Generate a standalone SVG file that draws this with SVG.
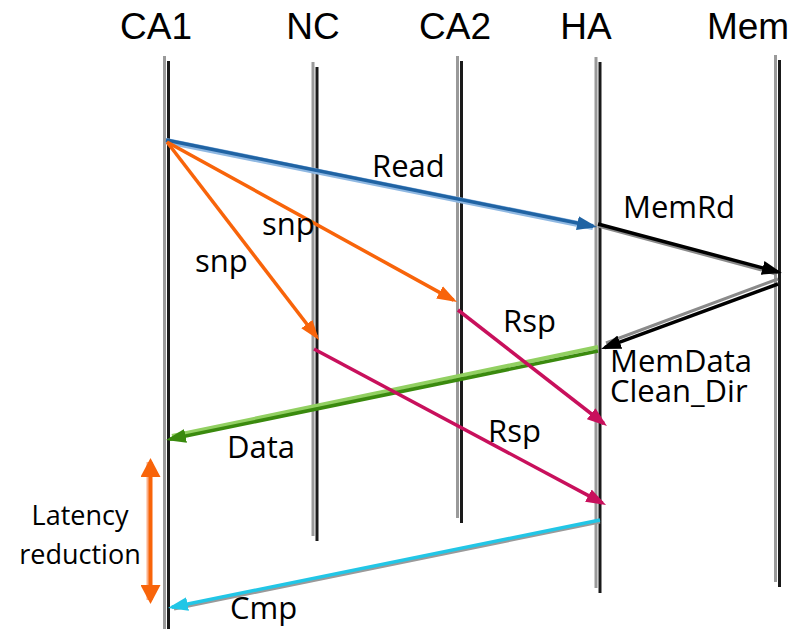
<svg xmlns="http://www.w3.org/2000/svg" width="804" height="629" viewBox="0 0 804 629">
<style>
.hdr{font-family:"Liberation Sans",Arial,sans-serif;font-size:37px;fill:#000;text-anchor:middle}
.lbl{font-family:"Open Sans","Liberation Sans",sans-serif;font-size:31px;fill:#000}
.small{font-family:"Open Sans","Liberation Sans",sans-serif;font-size:27px;fill:#000;text-anchor:middle}
.ll{stroke:#1a1a1a;stroke-width:3;fill:none}
.llsh{stroke:#9a9a9a;stroke-width:3;fill:none}
.msg{fill:none;stroke-width:3.5}
</style>
<defs>
<marker id="hBlue" viewBox="0 0 20 16" markerWidth="20" markerHeight="16" refX="16" refY="8" orient="auto" markerUnits="userSpaceOnUse"><path d="M0,1 L20,8 L0,15 z" fill="#2063a3"/></marker>
<marker id="hOrange" viewBox="0 0 20 16" markerWidth="20" markerHeight="16" refX="16" refY="8" orient="auto" markerUnits="userSpaceOnUse"><path d="M0,1 L20,8 L0,15 z" fill="#f8640a"/></marker>
<marker id="hBlack" viewBox="0 0 20 16" markerWidth="20" markerHeight="16" refX="16" refY="8" orient="auto" markerUnits="userSpaceOnUse"><path d="M0,1 L20,8 L0,15 z" fill="#000"/></marker>
<marker id="hGreen" viewBox="0 0 20 16" markerWidth="20" markerHeight="16" refX="16" refY="8" orient="auto" markerUnits="userSpaceOnUse"><path d="M0,1 L20,8 L0,15 z" fill="#3a8a0e"/></marker>
<marker id="hMag" viewBox="0 0 20 16" markerWidth="20" markerHeight="16" refX="16" refY="8" orient="auto" markerUnits="userSpaceOnUse"><path d="M0,1 L20,8 L0,15 z" fill="#c8105c"/></marker>
<marker id="hCyan" viewBox="0 0 20 16" markerWidth="20" markerHeight="16" refX="16" refY="8" orient="auto" markerUnits="userSpaceOnUse"><path d="M0,1 L20,8 L0,15 z" fill="#22c6e6"/></marker>
<marker id="hLat" viewBox="0 0 20 20" markerWidth="20" markerHeight="20" refX="15" refY="10" orient="auto-start-reverse" markerUnits="userSpaceOnUse"><path d="M0,0 L19,10 L0,20 z" fill="#f8640a"/></marker>
</defs>
<rect width="804" height="629" fill="#fff"/>

<g id="CA1">
<text class="hdr" x="156" y="39">CA1</text>
<line class="llsh" x1="164.5" y1="56" x2="164.5" y2="629"/>
<line class="ll" x1="168.5" y1="61" x2="168.5" y2="629"/>
</g>
<g id="NC">
<text class="hdr" x="313" y="39">NC</text>
<line class="llsh" x1="313" y1="62" x2="313" y2="536"/>
<line class="ll" x1="317" y1="67" x2="317" y2="541"/>
</g>
<g id="CA2">
<text class="hdr" x="455" y="39">CA2</text>
<line class="llsh" x1="457.5" y1="56" x2="457.5" y2="518"/>
<line class="ll" x1="461.5" y1="61" x2="461.5" y2="523"/>
</g>
<g id="HA">
<text class="hdr" x="586" y="39">HA</text>
<line class="llsh" x1="596" y1="57" x2="596" y2="588"/>
<line class="ll" x1="600" y1="62" x2="600" y2="593"/>
</g>
<g id="Mem">
<text class="hdr" x="748" y="39">Mem</text>
<line class="llsh" x1="775.5" y1="55" x2="775.5" y2="582"/>
<line class="ll" x1="779.5" y1="60" x2="779.5" y2="587"/>
</g>

<g id="connectors">
<!-- Read -->
<line x1="166" y1="141" x2="593" y2="227" stroke="#8fb8e2" stroke-width="6" fill="none"/>
<line class="msg" x1="166" y1="140" x2="593.1" y2="226.2" stroke="#2063a3" stroke-width="4" marker-end="url(#hBlue)"/>
<!-- snp -->
<line class="msg" x1="167" y1="142" x2="316.6" y2="336.8" stroke="#f8640a" marker-end="url(#hOrange)"/>
<line class="msg" x1="167" y1="142" x2="453.5" y2="300.1" stroke="#f8640a" marker-end="url(#hOrange)"/>
<!-- MemRd -->
<line x1="598" y1="226" x2="776" y2="274" stroke="#8a8a8a" stroke-width="3" fill="none"/>
<line class="msg" x1="598" y1="224" x2="778.1" y2="272" stroke="#000" stroke-width="4" marker-end="url(#hBlack)"/>
<!-- MemData -->
<line x1="778" y1="279" x2="606" y2="343" stroke="#8a8a8a" stroke-width="3" fill="none"/>
<line class="msg" x1="778" y1="284" x2="604.8" y2="347.6" stroke="#000" stroke-width="3" marker-end="url(#hBlack)"/>
<!-- Data -->
<line x1="598" y1="347" x2="172" y2="436" stroke="#92d062" stroke-width="4" fill="none"/>
<line class="msg" x1="598" y1="351" x2="169.9" y2="439.2" stroke="#3a8a0e" stroke-width="3" marker-end="url(#hGreen)"/>
<!-- Rsp -->
<line class="msg" x1="458" y1="310" x2="603.8" y2="423.5" stroke="#c8105c" stroke-width="3" marker-end="url(#hMag)"/>
<line class="msg" x1="314" y1="349" x2="602.5" y2="503.1" stroke="#c8105c" stroke-width="3" marker-end="url(#hMag)"/>
<!-- Cmp -->
<line x1="600" y1="522" x2="174" y2="609" stroke="#9a9a9a" stroke-width="3" fill="none"/>
<line class="msg" x1="600" y1="520" x2="171.9" y2="607.2" stroke="#22c6e6" stroke-width="3" marker-end="url(#hCyan)"/>
<!-- Latency reduction -->
<line x1="148" y1="462" x2="148" y2="600" stroke="#fbb08a" stroke-width="3" fill="none"/>
<line x1="150.5" y1="462" x2="150.5" y2="600" stroke="#f8640a" stroke-width="4" fill="none" marker-start="url(#hLat)" marker-end="url(#hLat)"/>
</g>

<g id="labels">
<text class="lbl" x="372" y="177">Read</text>
<text class="lbl" x="262" y="235">snp</text>
<text class="lbl" x="195" y="272">snp</text>
<text class="lbl" x="623" y="218">MemRd</text>
<text class="lbl" x="503" y="332">Rsp</text>
<text class="lbl" x="610" y="372">MemData</text>
<text class="lbl" x="610" y="402">Clean_Dir</text>
<text class="lbl" x="227" y="458">Data</text>
<text class="lbl" x="488" y="442">Rsp</text>
<text class="lbl" x="230" y="619">Cmp</text>
<text class="small" x="80" y="525">Latency</text>
<text class="small" x="80" y="564">reduction</text>
</g>
</svg>
